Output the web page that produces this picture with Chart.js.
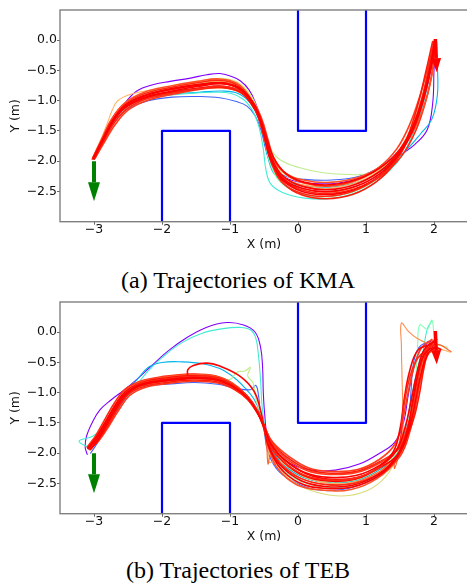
<!DOCTYPE html>
<html>
<head>
<meta charset="utf-8">
<script src="https://cdn.jsdelivr.net/npm/chart.js@4.4.1/dist/chart.umd.min.js"></script>
<style>
  html, body { margin: 0; padding: 0; background: #fff; overflow: hidden; }
  #page { position: relative; width: 467px; height: 583px; overflow: hidden; }
  canvas { position: absolute; left: 0; }
  .cap { position: absolute; left: 0; width: 476px; text-align: center;
         font-family: "Liberation Serif", "Times New Roman", serif; font-size: 24px; line-height: 24px; color: #000; }
</style>
</head>
<body>
<div id="page">
  <canvas id="kmaChart" width="470" height="258" style="top:0px"></canvas>
  <div class="cap" style="top:268px">(a) Trajectories of KMA</div>
  <canvas id="tebChart" width="470" height="258" style="top:292px"></canvas>
  <div class="cap" style="top:558px">(b) Trajectories of TEB</div>
</div>
<script>
/******************* DATA *******************/
const xTicks = [-3, -2, -1, 0, 1, 2];
const yTicks = [0, -0.5, -1, -1.5, -2, -2.5];
const xRange = [-3.5, 2.5];
const yRange = [-3, 0.5];

// obstacles, flat x,y lists (m)
const obstacleTop = [0, 0.5, 0, -1.5, 1, -1.5, 1, 0.5];
const obstacleBottom = [-2, -3, -2, -1.5, -1, -1.5, -1, -3];

// start / goal pose arrows: x0, y0, x1, y1 (m)
const startArrow = [-3.0, -2.0, -3.0, -2.66];
const goalArrow = [2.02, 0.02, 2.04, -0.53];

// KMA trajectories (flat x,y lists); first 10 thin coloured, rest red
const kmaPaths = [
  [-3.00,-1.97, -2.88,-1.72, -2.78,-1.48, -2.67,-1.26, -2.53,-1.02, -2.37,-0.84, -2.15,-0.74, -1.88,-0.68, -1.60,-0.63, -1.34,-0.57, -1.15,-0.55, -1.00,-0.59, -0.85,-0.67, -0.72,-0.82, -0.62,-1.05, -0.55,-1.30, -0.49,-1.60, -0.42,-1.93, -0.30,-2.18, -0.08,-2.32, 0.25,-2.37, 0.60,-2.36, 0.95,-2.27, 1.25,-2.10, 1.50,-1.90, 1.72,-1.72, 1.90,-1.48, 1.98,-1.05, 2.00,-0.50, 2.02,-0.02],
  [-3.00,-1.97, -2.85,-1.64, -2.70,-1.35, -2.50,-1.13, -2.20,-1.00, -1.85,-0.94, -1.45,-0.93, -1.15,-0.95, -0.92,-1.01, -0.75,-1.09, -0.63,-1.25, -0.54,-1.50, -0.47,-1.82, -0.38,-2.08, -0.20,-2.24, 0.10,-2.30, 0.50,-2.31, 0.90,-2.25, 1.25,-2.06, 1.52,-1.78, 1.72,-1.40, 1.86,-0.95, 1.96,-0.45, 2.02,-0.02],
  [-3.00,-1.96, -2.86,-1.65, -2.72,-1.35, -2.52,-1.10, -2.22,-0.96, -1.85,-0.89, -1.45,-0.86, -1.12,-0.84, -0.88,-0.88, -0.70,-1.04, -0.58,-1.30, -0.50,-1.62, -0.44,-1.95, -0.34,-2.22, -0.12,-2.36, 0.20,-2.42, 0.55,-2.42, 0.95,-2.32, 1.30,-2.10, 1.58,-1.83, 1.80,-1.55, 1.97,-1.30, 2.05,-0.90, 2.05,-0.40, 2.04,-0.02],
  [-3.00,-1.96, -2.88,-1.68, -2.76,-1.42, -2.60,-1.18, -2.35,-1.00, -2.00,-0.92, -1.60,-0.88, -1.25,-0.86, -0.98,-0.88, -0.80,-0.98, -0.66,-1.18, -0.57,-1.45, -0.51,-1.80, -0.47,-2.15, -0.40,-2.38, -0.22,-2.52, 0.10,-2.61, 0.45,-2.62, 0.85,-2.52, 1.20,-2.30, 1.50,-1.96, 1.70,-1.52, 1.85,-1.02, 1.95,-0.48, 2.03,-0.02],
  [-3.01,-1.95, -2.86,-1.64, -2.72,-1.34, -2.53,-1.10, -2.23,-0.94, -1.85,-0.85, -1.45,-0.79, -1.12,-0.76, -0.86,-0.82, -0.68,-1.02, -0.57,-1.30, -0.49,-1.65, -0.42,-2.00, -0.28,-2.32, 0.00,-2.52, 0.35,-2.59, 0.75,-2.53, 1.12,-2.33, 1.42,-2.02, 1.64,-1.58, 1.80,-1.06, 1.92,-0.50, 2.00,-0.02],
  [-3.00,-1.95, -2.86,-1.63, -2.72,-1.32, -2.53,-1.07, -2.23,-0.90, -1.85,-0.80, -1.45,-0.72, -1.12,-0.67, -0.86,-0.74, -0.68,-0.95, -0.56,-1.24, -0.47,-1.55, -0.39,-1.82, -0.26,-1.98, 0.00,-2.10, 0.37,-2.19, 0.75,-2.22, 1.05,-2.20, 1.35,-2.02, 1.58,-1.72, 1.75,-1.30, 1.87,-0.86, 1.95,-0.43, 2.01,-0.02],
  [-3.02,-1.94, -2.90,-1.64, -2.80,-1.36, -2.73,-1.15, -2.65,-1.00, -2.45,-0.89, -2.15,-0.82, -1.80,-0.77, -1.45,-0.70, -1.12,-0.68, -0.87,-0.76, -0.69,-0.97, -0.57,-1.26, -0.48,-1.60, -0.40,-1.95, -0.24,-2.25, 0.05,-2.40, 0.42,-2.45, 0.82,-2.37, 1.18,-2.17, 1.47,-1.86, 1.67,-1.45, 1.82,-0.97, 1.93,-0.46, 2.00,-0.02],
  [-3.01,-1.96, -2.87,-1.65, -2.72,-1.35, -2.53,-1.11, -2.23,-0.95, -1.85,-0.87, -1.45,-0.81, -1.12,-0.79, -0.86,-0.86, -0.68,-1.05, -0.56,-1.32, -0.47,-1.66, -0.39,-1.98, -0.24,-2.24, 0.03,-2.38, 0.40,-2.42, 0.80,-2.35, 1.16,-2.16, 1.45,-1.87, 1.66,-1.46, 1.81,-0.98, 1.92,-0.47, 1.99,-0.02],
  [-3.00,-1.95, -2.87,-1.63, -2.73,-1.31, -2.55,-1.05, -2.25,-0.87, -1.87,-0.76, -1.46,-0.68, -1.13,-0.63, -0.88,-0.70, -0.70,-0.90, -0.58,-1.20, -0.49,-1.55, -0.41,-1.88, -0.26,-2.16, 0.02,-2.34, 0.40,-2.40, 0.82,-2.33, 1.19,-2.14, 1.48,-1.84, 1.69,-1.43, 1.84,-0.96, 1.94,-0.46, 2.01,-0.02],
  [-3.03,-1.97, -2.88,-1.65, -2.73,-1.34, -2.54,-1.09, -2.24,-0.92, -1.86,-0.82, -1.46,-0.75, -1.13,-0.72, -0.87,-0.80, -0.69,-1.01, -0.57,-1.29, -0.48,-1.64, -0.39,-1.98, -0.22,-2.28, 0.07,-2.45, 0.45,-2.51, 0.85,-2.42, 1.20,-2.21, 1.48,-1.89, 1.68,-1.48, 1.83,-0.99, 1.94,-0.47, 2.01,-0.02],
  [-3.02,-1.95, -2.88,-1.62, -2.74,-1.30, -2.55,-1.05, -2.25,-0.88, -1.88,-0.78, -1.47,-0.70, -1.15,-0.66, -0.89,-0.74, -0.71,-0.95, -0.59,-1.24, -0.50,-1.60, -0.41,-1.96, -0.25,-2.28, 0.05,-2.47, 0.43,-2.53, 0.85,-2.45, 1.22,-2.24, 1.52,-1.92, 1.73,-1.50, 1.88,-1.00, 1.98,-0.48, 2.03,-0.02],
  [-2.98,-1.94, -2.84,-1.67, -2.68,-1.38, -2.48,-1.14, -2.18,-0.98, -1.82,-0.89, -1.43,-0.81, -1.10,-0.78, -0.84,-0.85, -0.65,-1.04, -0.53,-1.31, -0.44,-1.65, -0.35,-1.96, -0.17,-2.22, 0.12,-2.37, 0.47,-2.41, 0.85,-2.32, 1.18,-2.11, 1.45,-1.80, 1.64,-1.40, 1.79,-0.93, 1.91,-0.45, 2.00,-0.02],
  [-3.02,-1.96, -2.87,-1.65, -2.72,-1.34, -2.53,-1.10, -2.22,-0.95, -1.84,-0.86, -1.44,-0.80, -1.11,-0.78, -0.85,-0.86, -0.66,-1.06, -0.54,-1.34, -0.45,-1.70, -0.37,-2.04, -0.22,-2.36, 0.06,-2.56, 0.42,-2.62, 0.80,-2.55, 1.15,-2.34, 1.42,-2.03, 1.61,-1.60, 1.76,-1.08, 1.88,-0.52, 1.98,-0.02],
  [-3.00,-1.96, -2.87,-1.66, -2.73,-1.35, -2.55,-1.12, -2.25,-0.95, -1.85,-0.86, -1.45,-0.79, -1.12,-0.76, -0.87,-0.83, -0.70,-1.03, -0.57,-1.30, -0.48,-1.64, -0.40,-1.99, -0.24,-2.30, 0.06,-2.50, 0.43,-2.55, 0.83,-2.47, 1.19,-2.25, 1.47,-1.92, 1.67,-1.50, 1.82,-1.00, 1.93,-0.47, 2.00,-0.02],
  [-3.00,-1.95, -2.87,-1.62, -2.73,-1.30, -2.55,-1.04, -2.26,-0.86, -1.89,-0.76, -1.48,-0.68, -1.16,-0.64, -0.90,-0.71, -0.72,-0.92, -0.60,-1.22, -0.50,-1.58, -0.40,-1.90, -0.22,-2.17, 0.08,-2.31, 0.47,-2.35, 0.88,-2.27, 1.25,-2.07, 1.54,-1.78, 1.75,-1.38, 1.90,-0.92, 1.99,-0.44, 2.03,-0.02],
  [-3.01,-1.95, -2.87,-1.63, -2.72,-1.31, -2.53,-1.06, -2.23,-0.90, -1.86,-0.80, -1.46,-0.73, -1.13,-0.70, -0.87,-0.78, -0.69,-0.98, -0.56,-1.27, -0.46,-1.62, -0.36,-1.94, -0.18,-2.20, 0.10,-2.35, 0.47,-2.39, 0.87,-2.30, 1.22,-2.10, 1.50,-1.80, 1.70,-1.40, 1.85,-0.94, 1.96,-0.45, 2.02,-0.02],
  [-2.99,-1.96, -2.85,-1.66, -2.70,-1.36, -2.50,-1.12, -2.20,-0.96, -1.83,-0.87, -1.44,-0.80, -1.11,-0.76, -0.85,-0.84, -0.67,-1.04, -0.55,-1.32, -0.46,-1.67, -0.39,-2.02, -0.25,-2.33, 0.03,-2.52, 0.40,-2.58, 0.80,-2.50, 1.17,-2.28, 1.46,-1.96, 1.66,-1.53, 1.81,-1.02, 1.92,-0.48, 1.99,-0.02],
  [-3.00,-1.94, -2.86,-1.63, -2.72,-1.32, -2.53,-1.07, -2.23,-0.91, -1.86,-0.81, -1.46,-0.74, -1.13,-0.71, -0.88,-0.79, -0.70,-0.99, -0.58,-1.27, -0.49,-1.62, -0.40,-1.97, -0.23,-2.28, 0.07,-2.45, 0.45,-2.50, 0.86,-2.41, 1.21,-2.20, 1.49,-1.88, 1.70,-1.46, 1.85,-0.97, 1.95,-0.46, 2.02,-0.02],
  [-3.00,-1.95, -2.86,-1.64, -2.71,-1.33, -2.52,-1.09, -2.22,-0.93, -1.85,-0.84, -1.45,-0.76, -1.12,-0.72, -0.86,-0.80, -0.68,-1.00, -0.56,-1.28, -0.47,-1.63, -0.38,-1.97, -0.21,-2.26, 0.08,-2.42, 0.45,-2.47, 0.85,-2.38, 1.20,-2.17, 1.48,-1.86, 1.68,-1.45, 1.83,-0.97, 1.94,-0.46, 2.01,-0.02]
];
const kmaColors = ['#8000ff', '#4062fa', '#00b4ec', '#40ecd4', '#80ffb4', '#bfec8e', '#ffb462', '#ff9a50', '#dfe87f', '#ff6232',
                   '#ff2814', '#ff3c1e', '#ff1a0a', '#ff0000', '#ff5028', '#ff0000', '#ff2814', '#ff0000', '#ff0000'];
const kmaThin = 10;

// TEB trajectories (flat x,y lists); first 10 thin coloured, rest red
const tebPaths = [
  [-3.10,-2.02, -3.13,-1.90, -3.11,-1.72, -3.02,-1.48, -2.91,-1.28, -2.75,-1.12, -2.55,-0.95, -2.37,-0.78, -2.15,-0.55, -1.90,-0.30, -1.65,-0.10, -1.35,0.08, -1.05,0.16, -0.80,0.12, -0.63,0.00, -0.55,-0.25, -0.52,-0.60, -0.51,-1.00, -0.49,-1.35, -0.45,-1.70, -0.32,-1.98, -0.10,-2.18, 0.20,-2.28, 0.55,-2.28, 0.90,-2.18, 1.20,-2.00, 1.42,-1.82, 1.55,-1.50, 1.62,-1.05, 1.70,-0.60, 1.80,-0.28, 1.95,-0.15],
  [-3.06,-1.92, -3.22,-1.80, -3.02,-1.72, -2.86,-1.56, -2.70,-1.36, -2.55,-1.14, -2.40,-0.92, -2.22,-0.66, -2.00,-0.42, -1.72,-0.18, -1.42,-0.02, -1.10,0.06, -0.85,0.08, -0.70,0.04, -0.62,-0.10, -0.58,-0.40, -0.55,-0.80, -0.53,-1.20, -0.49,-1.55, -0.42,-1.88, -0.25,-2.15, 0.05,-2.38, 0.42,-2.48, 0.82,-2.46, 1.18,-2.28, 1.45,-2.02, 1.60,-1.62, 1.68,-1.15, 1.76,-0.68, 1.84,-0.30, 1.90,0.05, 1.96,0.18],
  [-3.08,-1.93, -2.95,-1.74, -2.81,-1.49, -2.67,-1.20, -2.52,-0.95, -2.38,-0.80, -2.20,-0.58, -2.00,-0.50, -1.70,-0.49, -1.40,-0.52, -1.15,-0.60, -0.95,-0.74, -0.78,-0.92, -0.65,-1.10, -0.55,-1.35, -0.49,-1.58, -0.40,-1.90, -0.22,-2.18, 0.08,-2.40, 0.45,-2.49, 0.85,-2.46, 1.20,-2.27, 1.46,-2.00, 1.58,-1.60, 1.66,-1.12, 1.75,-0.65, 1.85,-0.30, 2.00,-0.22],
  [-3.05,-2.00, -2.92,-1.78, -2.78,-1.52, -2.64,-1.25, -2.50,-1.02, -2.45,-0.86, -2.28,-0.88, -1.93,-0.86, -1.53,-0.83, -1.18,-0.86, -0.90,-0.93, -0.70,-0.95, -0.62,-0.88, -0.58,-1.05, -0.55,-1.35, -0.50,-1.60, -0.45,-1.95, -0.32,-2.25, -0.10,-2.45, 0.25,-2.60, 0.65,-2.60, 1.00,-2.48, 1.30,-2.25, 1.48,-2.00, 1.62,-1.55, 1.66,-1.00, 1.70,-0.50, 1.78,-0.25, 1.92,-0.15],
  [-3.07,-1.92, -2.94,-1.75, -2.80,-1.50, -2.66,-1.22, -2.51,-0.99, -2.29,-0.84, -1.94,-0.77, -1.54,-0.72, -1.19,-0.75, -0.94,-0.88, -0.74,-1.07, -0.59,-1.32, -0.50,-1.57, -0.42,-1.92, -0.27,-2.22, 0.03,-2.46, 0.40,-2.56, 0.80,-2.54, 1.17,-2.36, 1.46,-2.08, 1.62,-1.65, 1.70,-1.15, 1.74,-0.60, 1.76,-0.20, 1.79,0.12, 1.90,0.05, 1.97,0.20, 2.00,-0.10],
  [-3.08,-1.92, -2.95,-1.74, -2.81,-1.49, -2.67,-1.22, -2.52,-0.99, -2.30,-0.84, -1.95,-0.76, -1.55,-0.72, -1.20,-0.74, -1.00,-0.78, -0.90,-0.66, -0.78,-0.64, -0.70,-0.58, -0.74,-0.72, -0.66,-0.84, -0.62,-1.10, -0.55,-1.35, -0.49,-1.58, -0.40,-1.88, -0.22,-2.15, 0.08,-2.38, 0.45,-2.47, 0.85,-2.44, 1.20,-2.25, 1.46,-1.98, 1.60,-1.58, 1.68,-1.10, 1.77,-0.62, 1.87,-0.30, 2.05,-0.22, 2.20,-0.25],
  [-3.07,-1.92, -2.94,-1.75, -2.80,-1.50, -2.66,-1.23, -2.51,-1.00, -2.29,-0.86, -1.94,-0.79, -1.54,-0.75, -1.19,-0.78, -0.94,-0.90, -0.74,-1.08, -0.59,-1.33, -0.49,-1.58, -0.42,-1.90, -0.30,-2.20, -0.10,-2.45, 0.15,-2.60, 0.45,-2.69, 0.75,-2.70, 1.05,-2.60, 1.28,-2.40, 1.45,-2.10, 1.60,-1.70, 1.68,-1.20, 1.76,-0.70, 1.86,-0.32, 2.00,-0.25],
  [-3.09,-1.91, -2.96,-1.73, -2.83,-1.48, -2.69,-1.20, -2.55,-0.97, -2.32,-0.83, -1.96,-0.75, -1.56,-0.71, -1.21,-0.74, -0.96,-0.86, -0.76,-1.04, -0.61,-1.29, -0.51,-1.53, -0.44,-1.95, -0.42,-2.15, -0.30,-2.12, -0.12,-2.25, 0.15,-2.42, 0.50,-2.50, 0.88,-2.46, 1.22,-2.28, 1.48,-2.02, 1.63,-1.62, 1.72,-1.15, 1.80,-0.68, 1.90,-0.35, 2.05,-0.28, 2.25,-0.33],
  [-3.08,-1.93, -2.95,-1.75, -2.81,-1.50, -2.67,-1.23, -2.52,-1.00, -2.30,-0.86, -1.95,-0.78, -1.55,-0.74, -1.20,-0.77, -0.95,-0.89, -0.75,-1.07, -0.60,-1.31, -0.50,-1.55, -0.40,-1.86, -0.21,-2.13, 0.09,-2.36, 0.44,-2.45, 0.84,-2.42, 1.18,-2.24, 1.42,-2.00, 1.53,-1.75, 1.54,-1.30, 1.53,-0.75, 1.52,-0.20, 1.52,0.15, 1.62,0.02, 1.75,-0.10, 1.90,-0.18, 2.02,-0.20],
  [-3.06,-1.93, -2.93,-1.76, -2.79,-1.51, -2.65,-1.24, -2.50,-1.01, -2.28,-0.87, -1.93,-0.80, -1.53,-0.76, -1.18,-0.79, -0.93,-0.91, -0.73,-1.09, -0.58,-1.33, -0.50,-1.58, -0.46,-1.90, -0.44,-2.18, -0.40,-2.05, -0.25,-2.20, 0.05,-2.42, 0.42,-2.52, 0.82,-2.49, 1.18,-2.32, 1.40,-2.12, 1.42,-2.25, 1.50,-1.95, 1.62,-1.55, 1.70,-1.10, 1.78,-0.62, 1.88,-0.30, 2.05,-0.20, 2.25,-0.32],
  [-3.10,-1.90, -2.97,-1.70, -2.84,-1.44, -2.70,-1.17, -2.55,-0.95, -2.32,-0.81, -1.97,-0.73, -1.57,-0.69, -1.22,-0.72, -0.97,-0.84, -0.77,-1.03, -0.62,-1.28, -0.52,-1.53, -0.43,-1.88, -0.25,-2.18, 0.05,-2.42, 0.42,-2.52, 0.82,-2.50, 1.22,-2.32, 1.50,-2.05, 1.65,-1.62, 1.74,-1.15, 1.82,-0.65, 1.90,-0.30, 2.02,-0.18],
  [-3.06,-1.93, -2.92,-1.78, -2.78,-1.55, -2.63,-1.28, -2.48,-1.05, -2.27,-0.92, -1.93,-0.85, -1.53,-0.81, -1.18,-0.84, -0.93,-0.95, -0.73,-1.12, -0.58,-1.36, -0.49,-1.58, -0.37,-1.82, -0.15,-2.04, 0.15,-2.24, 0.48,-2.30, 0.88,-2.27, 1.20,-2.10, 1.42,-1.86, 1.53,-1.50, 1.61,-1.05, 1.70,-0.60, 1.82,-0.25, 1.97,-0.12],
  [-3.09,-1.90, -2.96,-1.71, -2.82,-1.46, -2.68,-1.19, -2.53,-0.96, -2.31,-0.82, -1.96,-0.74, -1.56,-0.70, -1.21,-0.73, -0.96,-0.85, -0.76,-1.04, -0.61,-1.29, -0.51,-1.54, -0.43,-1.92, -0.30,-2.25, -0.02,-2.52, 0.36,-2.61, 0.78,-2.60, 1.16,-2.42, 1.46,-2.10, 1.63,-1.65, 1.73,-1.15, 1.83,-0.66, 1.93,-0.34, 2.06,-0.30],
  [-3.09,-1.91, -2.96,-1.72, -2.83,-1.48, -2.69,-1.21, -2.54,-0.99, -2.31,-0.84, -1.96,-0.76, -1.56,-0.72, -1.21,-0.75, -0.96,-0.87, -0.76,-1.05, -0.61,-1.30, -0.51,-1.54, -0.42,-1.90, -0.28,-2.22, 0.00,-2.48, 0.38,-2.58, 0.80,-2.56, 1.18,-2.38, 1.47,-2.05, 1.62,-1.60, 1.70,-1.12, 1.79,-0.62, 1.88,-0.30, 1.99,-0.22],
  [-3.06,-1.94, -2.93,-1.77, -2.79,-1.53, -2.65,-1.26, -2.50,-1.03, -2.28,-0.90, -1.94,-0.83, -1.54,-0.79, -1.19,-0.82, -0.94,-0.93, -0.74,-1.11, -0.59,-1.35, -0.49,-1.57, -0.38,-1.83, -0.17,-2.06, 0.13,-2.26, 0.47,-2.33, 0.87,-2.30, 1.22,-2.13, 1.50,-1.90, 1.68,-1.50, 1.78,-1.05, 1.85,-0.60, 1.93,-0.25, 2.04,-0.12],
  [-3.07,-1.93, -2.94,-1.77, -2.80,-1.52, -2.66,-1.25, -2.51,-1.02, -2.29,-0.88, -1.94,-0.81, -1.54,-0.77, -1.19,-0.80, -0.94,-0.92, -0.74,-1.10, -0.59,-1.34, -0.49,-1.56, -0.38,-1.84, -0.18,-2.08, 0.12,-2.28, 0.46,-2.35, 0.86,-2.32, 1.22,-2.15, 1.48,-1.90, 1.62,-1.52, 1.72,-1.08, 1.80,-0.60, 1.90,-0.25, 2.03,-0.10],
  [-3.08,-1.92, -2.95,-1.74, -2.81,-1.49, -2.67,-1.22, -2.52,-0.99, -2.30,-0.85, -1.95,-0.78, -1.55,-0.74, -1.20,-0.77, -0.95,-0.89, -0.75,-1.07, -0.60,-1.31, -0.50,-1.55, -0.41,-1.87, -0.22,-2.14, 0.08,-2.37, 0.44,-2.46, 0.84,-2.43, 1.18,-2.24, 1.40,-1.98, 1.50,-1.60, 1.56,-1.12, 1.64,-0.65, 1.76,-0.30, 1.95,-0.20],
  [-3.05,-1.94, -2.93,-1.76, -2.80,-1.51, -2.66,-1.24, -2.51,-1.01, -2.29,-0.87, -1.94,-0.80, -1.54,-0.76, -1.19,-0.79, -0.94,-0.91, -0.74,-1.09, -0.59,-1.33, -0.50,-1.56, -0.39,-1.86, -0.19,-2.12, 0.12,-2.34, 0.47,-2.43, 0.87,-2.40, 1.22,-2.23, 1.50,-1.98, 1.64,-1.58, 1.73,-1.12, 1.82,-0.64, 1.93,-0.32, 2.05,-0.25],
  [-3.09,-1.92, -2.96,-1.74, -2.82,-1.49, -2.68,-1.22, -2.53,-0.99, -2.31,-0.85, -1.95,-0.79, -1.64,-0.76, -1.62,-0.62, -1.54,-0.55, -1.34,-0.51, -1.15,-0.56, -0.85,-0.73, -0.65,-0.97, -0.56,-1.25, -0.50,-1.55, -0.43,-1.90, -0.26,-2.20, 0.04,-2.45, 0.40,-2.55, 0.80,-2.53, 1.18,-2.35, 1.45,-2.05, 1.60,-1.65, 1.68,-1.18, 1.76,-0.70, 1.86,-0.36, 2.00,-0.25, 2.10,-0.28],
  [-3.07,-1.91, -2.94,-1.73, -2.80,-1.48, -2.66,-1.21, -2.51,-0.98, -2.29,-0.84, -1.94,-0.77, -1.54,-0.73, -1.19,-0.76, -0.94,-0.88, -0.74,-1.06, -0.59,-1.30, -0.50,-1.54, -0.42,-1.84, -0.23,-2.12, 0.07,-2.35, 0.42,-2.44, 0.82,-2.42, 1.17,-2.25, 1.40,-2.02, 1.50,-1.80, 1.54,-1.35, 1.60,-0.95, 1.67,-0.65, 1.76,-0.43, 1.90,-0.28, 2.00,-0.20],
  [-3.08,-1.92, -2.95,-1.75, -2.81,-1.50, -2.67,-1.23, -2.52,-1.00, -2.30,-0.86, -1.95,-0.79, -1.55,-0.75, -1.20,-0.78, -0.95,-0.90, -0.75,-1.08, -0.60,-1.32, -0.50,-1.55, -0.40,-1.85, -0.20,-2.10, 0.10,-2.32, 0.45,-2.40, 0.85,-2.37, 1.20,-2.20, 1.45,-1.95, 1.58,-1.55, 1.67,-1.10, 1.76,-0.62, 1.86,-0.28, 2.00,-0.15]
];
const tebColors = ['#8000ff', '#40ecd4', '#00b4ec', '#4062fa', '#80ffb4', '#bfec8e', '#dcdc7c', '#ffb462', '#ff8c50', '#ff6232',
                   '#ff2814', '#ff3c1e', '#ff5028', '#ff0000', '#ff1a0a', '#ff3c1e', '#ff0000', '#ff0000', '#ff0000', '#ff2814', '#ff0000'];
const tebThin = 10;
/************************************************/

const TICK_FONT = { family: 'DejaVu Sans', size: 12.5 };
const fmt = v => (Math.abs(v) < 1e-9 ? 0 : v).toFixed(Number.isInteger(v) ? 0 : 1).replace('-', '\u2212');
const fmtY = v => (Math.abs(v) < 1e-9 ? 0 : v).toFixed(1).replace('-', '\u2212');

function toPts(a) {
  const p = [];
  for (let i = 0; i < a.length; i += 2) p.push({ x: a[i], y: a[i + 1] });
  return p;
}

function drawArrow(ctx, xs, ys, a, color, shaft, headLen, headW) {
  const x0 = xs.getPixelForValue(a[0]), y0 = ys.getPixelForValue(a[1]);
  const x1 = xs.getPixelForValue(a[2]), y1 = ys.getPixelForValue(a[3]);
  const len = Math.hypot(x1 - x0, y1 - y0);
  const ux = (x1 - x0) / len, uy = (y1 - y0) / len;
  const bx = x1 - ux * headLen, by = y1 - uy * headLen;
  ctx.strokeStyle = color;
  ctx.fillStyle = color;
  ctx.lineWidth = shaft;
  ctx.lineCap = 'butt';
  ctx.beginPath();
  ctx.moveTo(x0, y0);
  ctx.lineTo(bx, by);
  ctx.stroke();
  ctx.beginPath();
  ctx.moveTo(x1, y1);
  ctx.lineTo(bx - uy * headW / 2, by + ux * headW / 2);
  ctx.lineTo(bx + uy * headW / 2, by - ux * headW / 2);
  ctx.closePath();
  ctx.fill();
}

const posePlugin = {
  id: 'poses',
  afterDatasetsDraw(chart) {
    const { ctx, chartArea: ca, scales } = chart;
    ctx.save();
    ctx.beginPath();
    ctx.rect(ca.left, ca.top, ca.width, ca.height);
    ctx.clip();
    drawArrow(ctx, scales.x, scales.y, startArrow, '#008000', 4, 19, 12);
    drawArrow(ctx, scales.x, scales.y, goalArrow, '#ff0000', 3.5, 14, 10);
    ctx.restore();
  },
  afterDraw(chart) {
    // axes frame (spines)
    const { ctx, chartArea: ca } = chart;
    ctx.save();
    ctx.strokeStyle = '#808080';
    ctx.lineWidth = 1.4;
    ctx.strokeRect(ca.left, ca.top, ca.width, ca.height);
    ctx.restore();
  }
};

function makeChart(id, paths, colors, thinCount) {
  const n = paths.length;
  const datasets = paths.map((p, i) => ({
    data: toPts(p),
    borderColor: colors[i],
    borderWidth: i >= thinCount ? 1.6 : 1.1,
    order: n - i + 2
  }));
  [obstacleTop, obstacleBottom].forEach(o => datasets.push({
    data: toPts(o), borderColor: '#0000ff', borderWidth: 2.2, tension: 0, order: 0
  }));

  return new Chart(document.getElementById(id), {
    type: 'scatter',
    data: { datasets },
    options: {
      responsive: false,
      animation: false,
      showLine: true,
      layout: { padding: { top: 10, right: 2, left: 0, bottom: 0 } },
      elements: {
        point: { radius: 0, hoverRadius: 0 },
        line: { tension: 0.4, fill: false, borderJoinStyle: 'round', borderCapStyle: 'round' }
      },
      plugins: { legend: { display: false }, tooltip: { enabled: false } },
      scales: {
        x: {
          type: 'linear', min: xRange[0], max: xRange[1],
          afterBuildTicks: s => { s.ticks = xTicks.map(v => ({ value: v })); },
          afterFit: s => { s.height = 36.3; },
          border: { display: false },
          grid: { display: true, drawOnChartArea: false, drawTicks: true, tickLength: 3, color: '#666' },
          ticks: { autoSkip: false, maxRotation: 0, padding: -2, color: '#111', font: TICK_FONT, callback: v => fmt(v) },
          title: { display: true, text: 'X (m)', color: '#111', font: TICK_FONT, padding: { top: 0, bottom: 5.5 } }
        },
        y: {
          type: 'linear', min: yRange[0], max: yRange[1],
          afterBuildTicks: s => { s.ticks = yTicks.map(v => ({ value: v })); },
          afterFit: s => { s.width = 60; },
          border: { display: false },
          grid: { display: true, drawOnChartArea: false, drawTicks: true, tickLength: 3, color: '#666' },
          ticks: { autoSkip: false, padding: 0, color: '#111', font: TICK_FONT, callback: v => fmtY(v) },
          title: { display: true, text: 'Y (m)', color: '#111', font: TICK_FONT, padding: { top: 8, bottom: 0 } }
        }
      }
    },
    plugins: [posePlugin]
  });
}

makeChart('kmaChart', kmaPaths, kmaColors, kmaThin);
makeChart('tebChart', tebPaths, tebColors, tebThin);
</script>
</body>
</html>
